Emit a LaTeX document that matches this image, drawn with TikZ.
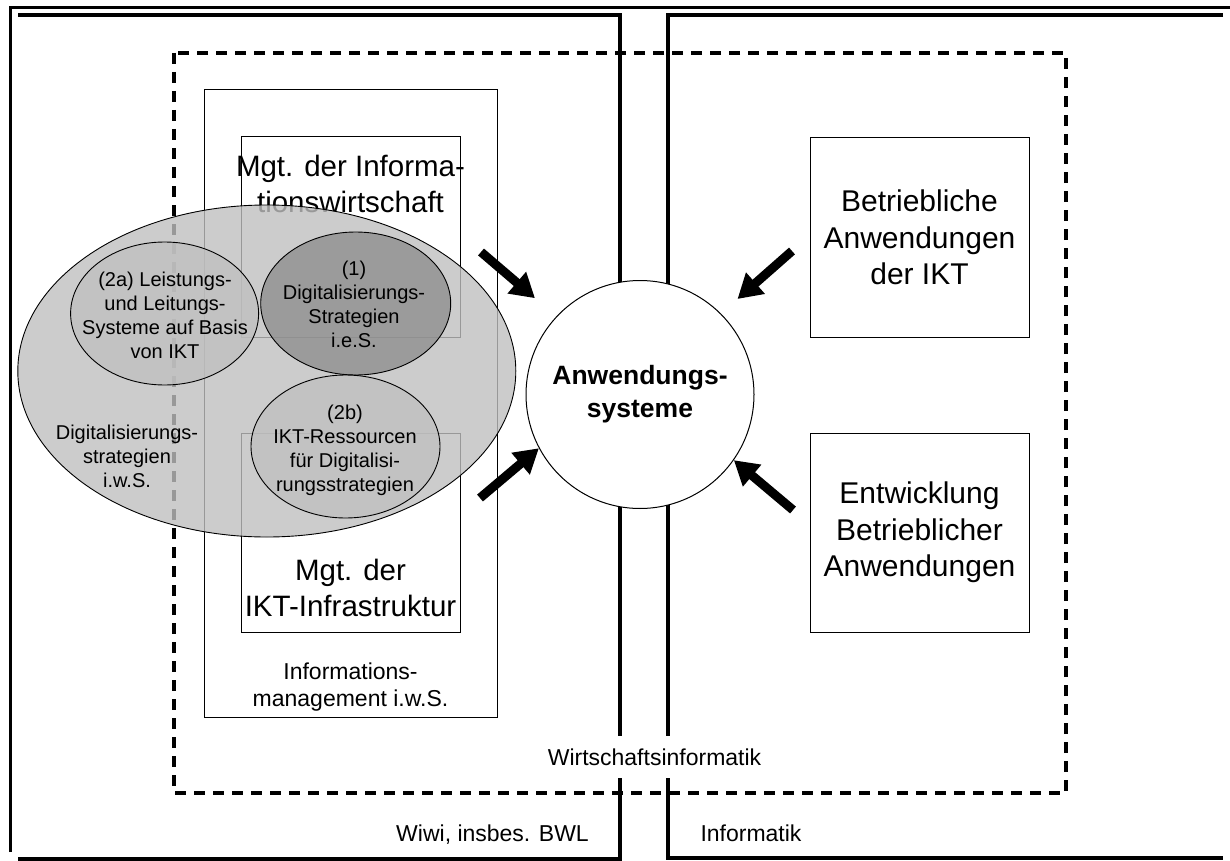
\documentclass[tikz,border=0pt]{standalone}
\usepackage{fontspec}
\setmainfont{Liberation Sans}
\usetikzlibrary{arrows.meta,shapes.geometric}
\begin{document}
\begin{tikzpicture}[x=1pt,y=-1pt,
  framel/.style={line width=3pt},
  panel/.style={line width=3.6pt},
  dashbox/.style={line width=3.2pt, dash pattern=on 11pt off 8pt},
  thinbox/.style={draw, line width=1pt, inner sep=0pt},
  bigtxt/.style={font=\fontsize{29.5}{36}\selectfont, align=center, inner sep=0pt},
  boxtxt/.style={font=\fontsize{30}{36.5}\selectfont, align=center},
  smalltxt/.style={font=\fontsize{20}{24}\selectfont, align=center, inner sep=0pt},
  lbltxt/.style={font=\fontsize{23}{27}\selectfont, align=center, inner sep=0pt},
  ell/.style={ellipse, draw, line width=0.9pt, inner sep=0pt, fill opacity=0.8},
  bigarrow/.style={line width=9pt, -{Triangle[length=24pt,width=27pt]}}
]
\useasboundingbox (0,0) rectangle (1230,861);

% outer frame and panels
\draw[framel] (10,852) -- (10,8) -- (1230,8);
\draw[panel] (18,15) -- (620,15) -- (620,859) -- (18,859);
\draw[panel] (1223,15) -- (668,15) -- (668,858) -- (1223,858);

% Wirtschaftsinformatik dashed frame
\draw[dashbox] (174,53) rectangle (1066,793);

% Informationsmanagement
\node[thinbox, minimum width=293pt, minimum height=627pt] (infomgt) at (350.5,403.5) {};
\node[thinbox, minimum width=219pt, minimum height=200pt] (mgtinf) at (350.5,237) {};
\node[thinbox, minimum width=219pt, minimum height=199pt] (mgtikt) at (350.5,532.5) {};
\node[bigtxt] (mgtinftxt) at (350.5,184) {Mgt. der Informa-\\tionswirtschaft};
\node[bigtxt] (mgtikttxt) at (350.5,588) {Mgt. der\\IKT-Infrastruktur};
\node[lbltxt] (infomgttxt) at (350.5,687) {Informations-\\management i.w.S.};

% ellipses
\node[ell, fill=black!25, minimum width=498pt, minimum height=332pt] (digiws) at (266.8,371) {};
\node[ell, fill=black!25, minimum width=188pt, minimum height=143pt] (e2a) at (164.6,313.5) {};
\node[ell, fill=black!44, minimum width=190pt, minimum height=143pt] (e1) at (355.7,303.5) {};
\node[ell, fill=black!25, minimum width=189pt, minimum height=143pt] (e2b) at (345.5,446.5) {};
\node[smalltxt] (t2a) at (165,315.5) {(2a) Leistungs-\\und Leitungs-\\Systeme auf Basis\\von IKT};
\node[smalltxt] (t1) at (354,304.5) {(1)\\Digitalisierungs-\\Strategien\\i.e.S.};
\node[smalltxt] (t2b) at (345,450.5) {(2b)\\IKT-Ressourcen\\für Digitalisi-\\rungsstrategien};
\node[smalltxt] (tws) at (127,456.5) {Digitalisierungs-\\strategien\\i.w.S.};

% right boxes
\node[thinbox, boxtxt, minimum width=219pt, minimum height=199pt] (betr) at (919.5,237.5) {Betriebliche\\Anwendungen\\der IKT};
\node[thinbox, boxtxt, minimum width=219pt, minimum height=199pt] (entw) at (919.5,532.5) {Entwicklung\\Betrieblicher\\Anwendungen};

% central circle
\node[circle, draw, fill=white, line width=1pt, minimum size=228pt, inner sep=0pt, align=center,
      font=\fontsize{26.5}{33}\selectfont\bfseries] (circ) at (640,394.5) {Anwendungs-\\systeme};

% arrows
\coordinate (a1) at (481,252);
\coordinate (a2) at (480,498);
\coordinate (a3) at (792,251);
\coordinate (a4) at (793,510);
\draw[bigarrow, shorten >=28pt] (a1) -- (circ.137.6);
\draw[bigarrow] (a2) -- (circ.208);
\draw[bigarrow, shorten >=22pt] (a3) -- (circ.45.6);
\draw[bigarrow] (a4) -- (circ.325);

% labels
\node[lbltxt, fill=white, minimum height=42pt, inner xsep=2pt] (wi) at (654.5,757) {Wirtschaftsinformatik};
\node[lbltxt] (wiwi) at (492.5,835) {Wiwi, insbes. BWL};
\node[lbltxt] (inf) at (751,833) {Informatik};
\end{tikzpicture}
\end{document}
